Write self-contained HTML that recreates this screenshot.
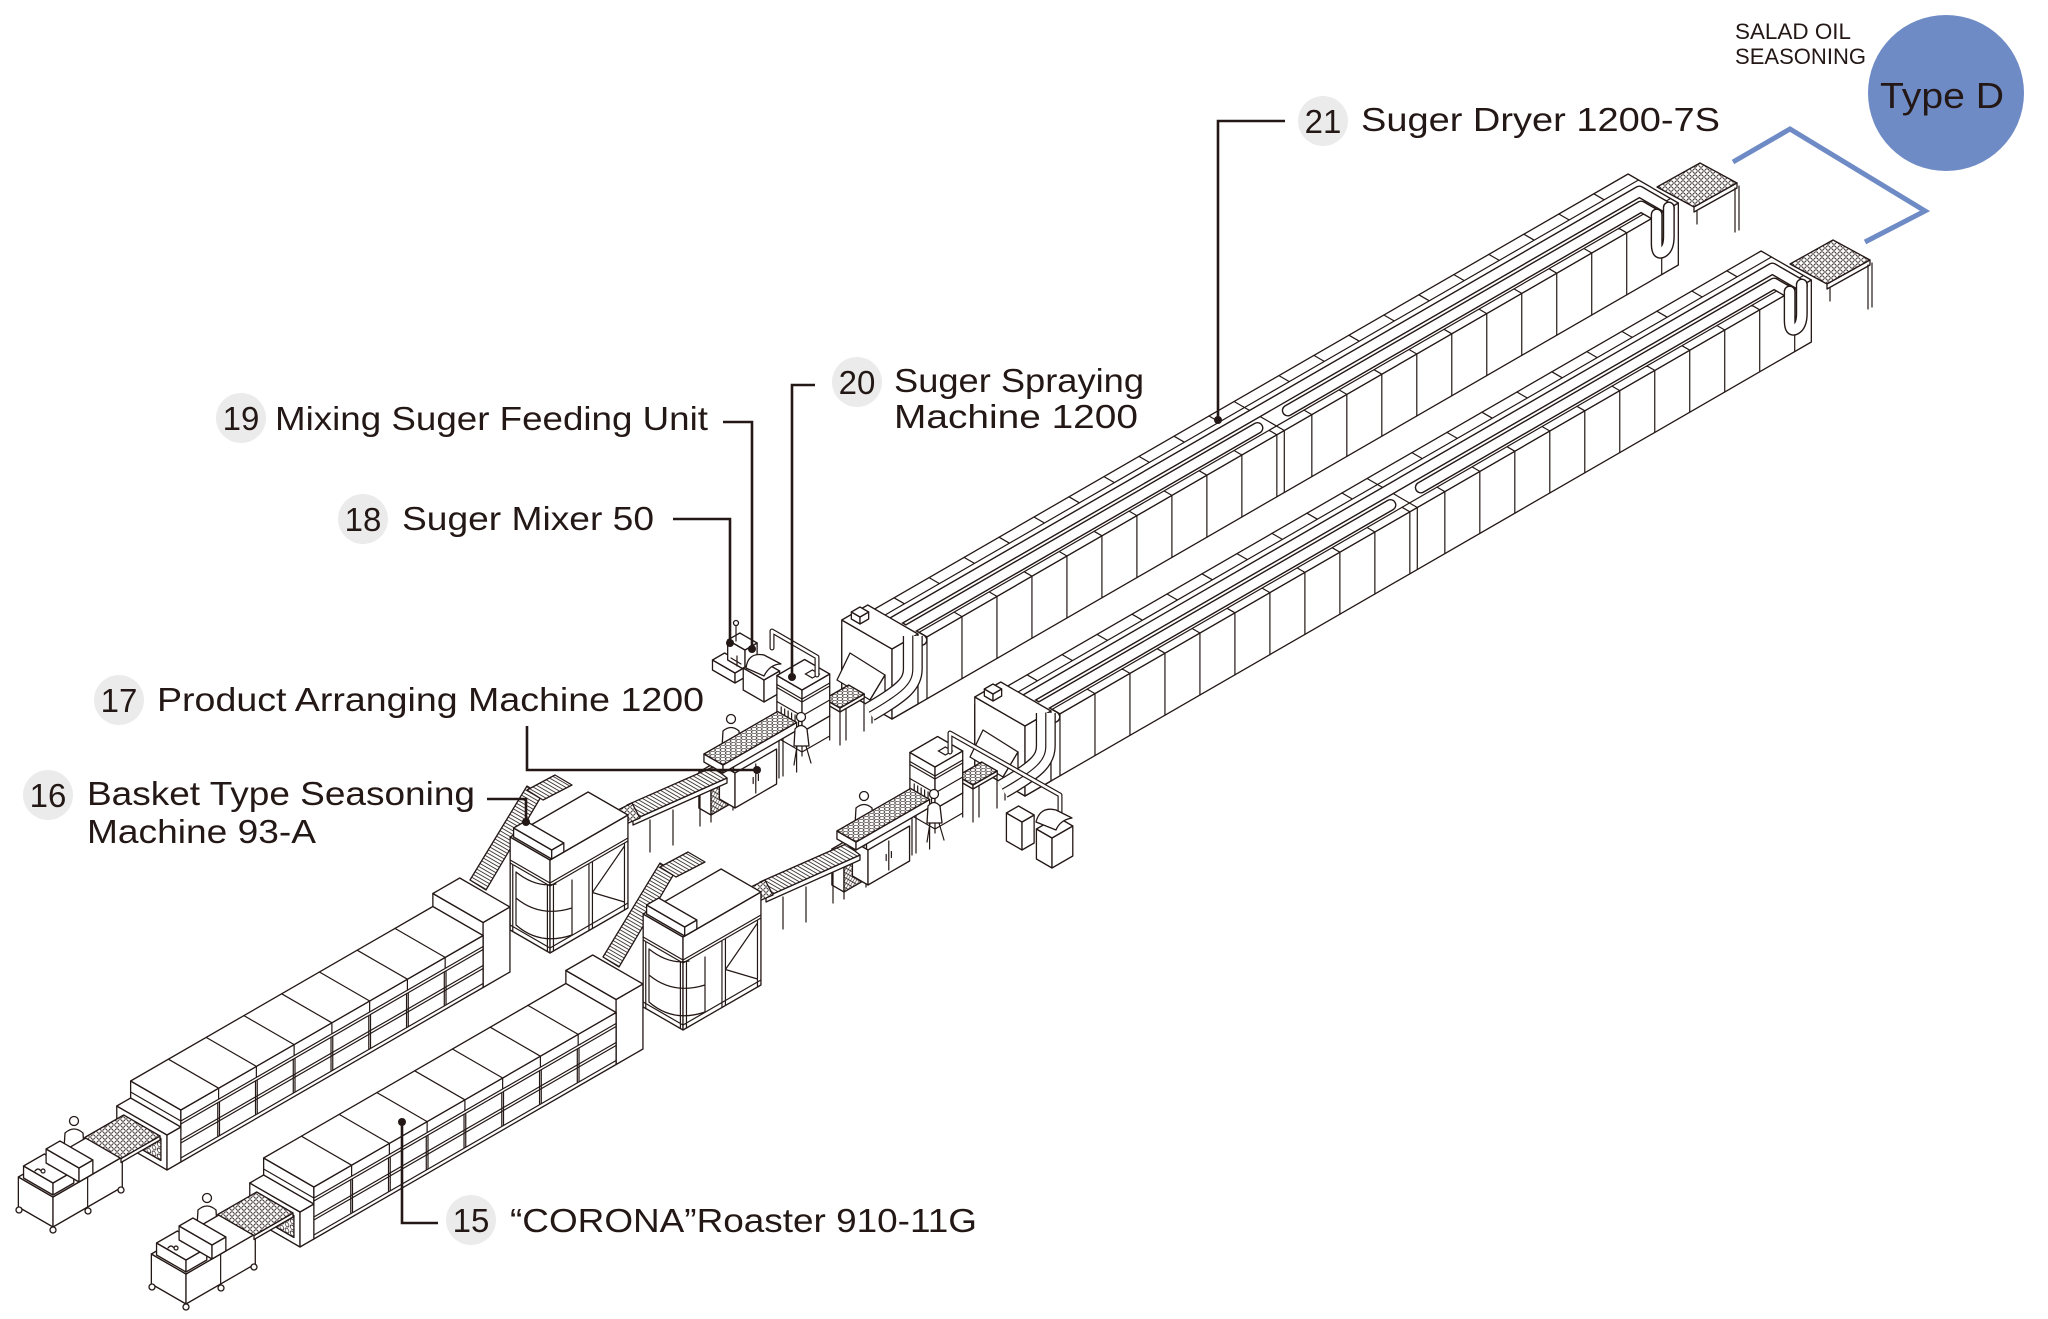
<!DOCTYPE html>
<html><head><meta charset="utf-8"><title>Salad Oil Seasoning Type D</title>
<style>
html,body{margin:0;padding:0;background:#fff;}
svg{display:block;}
.s{fill:#fff;stroke:#231815;stroke-width:1.3;vector-effect:non-scaling-stroke;stroke-linejoin:round}
.n{fill:none;stroke:#231815;stroke-width:1.2;vector-effect:non-scaling-stroke;stroke-linecap:round}
.tk{fill:none;stroke:#231815;stroke-width:12;stroke-linecap:round;stroke-linejoin:round;vector-effect:non-scaling-stroke}
.tw{fill:none;stroke:#fff;stroke-width:9.2;stroke-linecap:round;stroke-linejoin:round;vector-effect:non-scaling-stroke}
.fk{fill:none;stroke:#231815;stroke-width:20;stroke-linecap:butt;stroke-linejoin:round;vector-effect:non-scaling-stroke}
.fw{fill:none;stroke:#fff;stroke-width:17.4;stroke-linecap:butt;stroke-linejoin:round;vector-effect:non-scaling-stroke}
.pk{fill:none;stroke:#231815;stroke-width:5;stroke-linecap:round;stroke-linejoin:round}
.pw{fill:none;stroke:#fff;stroke-width:2.6;stroke-linecap:round;stroke-linejoin:round}
.t{font-family:"Liberation Sans",Arial,sans-serif;fill:#231815}
.ld{fill:none;stroke:#231815;stroke-width:2.6}
.nc{fill:#ebebeb}
</style></head><body>
<svg width="2048" height="1319" viewBox="0 0 2048 1319" xmlns="http://www.w3.org/2000/svg">
<defs>
<pattern id="dots" width="6" height="6" patternUnits="userSpaceOnUse"><rect width="6" height="6" fill="#fff"/><circle cx="3" cy="3" r="2.2" fill="none" stroke="#231815" stroke-width=".8"/></pattern>
<pattern id="hatch" width="3.2" height="10" patternUnits="userSpaceOnUse" patternTransform="rotate(-60)"><rect width="3.2" height="10" fill="#fff"/><path d="M1,0V10" stroke="#231815" stroke-width=".8"/></pattern>
<pattern id="xh" width="5" height="5" patternUnits="userSpaceOnUse"><rect width="5" height="5" fill="#fff"/><path d="M0,0L5,5M5,0L0,5" stroke="#231815" stroke-width=".7"/></pattern>
</defs>
<rect width="2048" height="1319" fill="#fff"/>

<!-- upper mixer (18/19) -->
<g transform="translate(735,683)">
 <rect class="s" width="26" height="10" transform="matrix(-.866,-.5,0,-1,0,0)"/>
 <rect class="s" width="14" height="10" transform="matrix(.866,-.5,0,-1,0,0)"/>
 <rect class="s" width="14" height="26" transform="matrix(.866,-.5,-.866,-.5,0,-10)"/>
</g>
<g transform="translate(745,670)">
 <rect class="s" width="20" height="20" transform="matrix(-.866,-.5,0,-1,0,0)"/>
 <rect class="s" width="14" height="20" transform="matrix(.866,-.5,0,-1,0,0)"/>
 <rect class="s" width="14" height="20" transform="matrix(.866,-.5,-.866,-.5,0,-20)"/>
 <path class="n" d="M-4,-6L-14,-12M-8,-14V-4"/>
</g>
<path class="n" d="M736,641V626"/><circle class="s" cx="736" cy="623" r="2.5"/>
<g transform="translate(764,702)">
 <rect class="s" width="24" height="22" transform="matrix(-.866,-.5,0,-1,0,0)"/>
 <rect class="s" width="18" height="22" transform="matrix(.866,-.5,0,-1,0,0)"/>
 <rect class="s" width="18" height="24" transform="matrix(.866,-.5,-.866,-.5,0,-22)"/>
</g>
<path class="s" d="M746,668Q748,652 764,655L781,664Q770,664 764,676Z"/>

<g id="line">
<!-- ============ DRYER ============ -->
<g transform="translate(892,719)">
 <rect class="s" width="58" height="62" transform="matrix(-.866,-.5,0,-1,0,0)"/>
 <g transform="matrix(.866,-.5,0,-1,0,0)">
  <rect class="s" width="908" height="62"/>
  <path class="n" d="M40.4,0V62M80.8,0V62M121.2,0V62M161.6,0V62M202,0V62M242.4,0V62M282.8,0V62M323.2,0V62M363.6,0V62M404,0V62M444.4,0V62M453,0V62M484.8,0V62M525.2,0V62M565.6,0V62M606,0V62M646.4,0V62M686.8,0V62M727.2,0V62M767.6,0V62M808,0V62M848.4,0V62M888.8,0V62"/>
 </g>
 <g transform="matrix(.866,-.5,-.866,-.5,0,-62)">
  <rect class="s" width="908" height="58"/>
  <path class="n" d="M0,9H908M0,46H908M40.4,0V9M80.8,0V9M121.2,0V9M161.6,0V9M202,0V9M242.4,0V9M282.8,0V9M323.2,0V9M363.6,0V9M404,0V9M444.4,0V9M484.8,0V9M525.2,0V9M565.6,0V9M606,0V9M646.4,0V9M686.8,0V9M727.2,0V9M767.6,0V9M808,0V9M848.4,0V9M888.8,0V9M453,0V58M20,46V58M60.4,46V58M100.8,46V58M141.2,46V58M181.6,46V58M222,46V58M262.4,46V58M302.8,46V58M343.2,46V58M383.6,46V58M424,46V58M504.8,46V58M545.2,46V58M585.6,46V58M626,46V58M666.4,46V58M706.8,46V58M747.2,46V58M787.6,46V58M828,46V58M868.4,46V58"/>
  <path class="tk" d="M34,0V34H897V0M34,18H440M475,18H883V0"/>
  <path class="tw" d="M34,0V34H897V0M34,18H440M475,18H883V0"/>
 </g>
 <g transform="matrix(.866,-.5,0,-1,0,0)">
  <path class="tk" d="M897,63V34Q897,22 890,22Q883,22 883,34V63"/>
  <path class="tw" d="M897,63V34Q897,22 890,22Q883,22 883,34V63"/>
 </g>
 <!-- entry housing -->
 <rect class="s" width="58" height="70" transform="matrix(-.866,-.5,0,-1,0,0)"/>
 <rect class="s" width="30" height="70" transform="matrix(.866,-.5,0,-1,0,0)"/>
 <rect class="s" width="30" height="58" transform="matrix(.866,-.5,-.866,-.5,0,-70)"/>
 <g transform="translate(-32,-95)">
  <rect class="s" width="10" height="7" transform="matrix(-.866,-.5,0,-1,0,0)"/>
  <rect class="s" width="10" height="7" transform="matrix(.866,-.5,0,-1,0,0)"/>
  <rect class="s" width="10" height="10" transform="matrix(.866,-.5,-.866,-.5,0,-7)"/>
 </g>
 <!-- chute -->
 <polygon class="s" points="-42,-66 -55,-39 -22,-19 -7,-44"/>
 <polygon class="s" points="-22,-19 -7,-44 -7,-22 -20,-7"/>
 <path class="n" d="M-20,-7V4M-8,-22V-12"/>
 <!-- fat duct -->
 <g transform="matrix(.866,-.5,0,-1,0,0)">
  <path class="fk" d="M24,71V38C24,24 14,20 -26,20"/>
  <path class="fw" d="M24,71V38C24,24 14,20 -26,20"/>
  <path class="n" d="M24,71V38C24,24 14,20 -26,20"/>
 </g>
</g>
<!-- dryer exit mesh -->
<polygon class="s" style="fill:url(#dots)" points="1657,187 1700,163 1737,183 1694,207"/>
<polygon class="s" points="1694,207 1737,183 1737,188 1694,212"/>
<path class="n" d="M1735,188V232M1739,186V230M1697,211V224"/>

<!-- dryer entry conveyor -->
<path class="n" d="M840,712V745M864,698V731M846,708V740"/>
<g transform="translate(840,712)">
 <rect class="s" width="18" height="4" transform="matrix(-.866,-.5,0,-1,0,0)"/>
 <rect class="s" width="28" height="4" transform="matrix(.866,-.5,0,-1,0,0)"/>
 <rect class="s" style="fill:url(#dots)" width="28" height="18" transform="matrix(.866,-.5,-.866,-.5,0,-4)"/>
</g>

<!-- ============ SPRAY MACHINE ============ -->
<g transform="translate(802,732)">
 <path class="n" d="M0,0V24M27.7,-16V8M-25.1,-14.5V9.5M0,20L27.7,4M0,20L-25.1,5.5"/>
 <g transform="matrix(-.866,-.5,0,-1,0,0)">
  <rect class="s" width="29" height="42"/>
  <path class="n" d="M0,16H29M0,30H29M0,33H29M4,2V13M8,2V13M12,2V13M16,2V13M20,2V13M24,2V13"/>
 </g>
 <g transform="matrix(.866,-.5,0,-1,0,0)">
  <rect class="s" width="32" height="42"/>
  <path class="n" d="M0,16H32M0,30H32M0,33H32"/>
 </g>
 <g transform="matrix(.866,-.5,-.866,-.5,0,-42)">
  <rect class="s" width="32" height="29"/>
  <rect class="n" x="18" y="6" width="8" height="8"/>
 </g>
</g>

<!-- ============ ARRANGING TABLE ============ -->
<circle class="s" cx="731" cy="719" r="4.5"/>
<path class="s" d="M722,748L723,731Q731,724 739,731L740,748Z"/>
<g transform="translate(711,815)">
 <rect class="s" width="14" height="36" transform="matrix(-.866,-.5,0,-1,0,0)"/>
 <rect class="s" style="fill:url(#xh)" width="26" height="36" transform="matrix(.866,-.5,0,-1,0,0)"/>
 <rect class="s" width="26" height="14" transform="matrix(.866,-.5,-.866,-.5,0,-36)"/>
</g>
<path class="n" d="M711,815V822M733,803V810"/>
<g transform="translate(735,808)">
 <rect class="s" width="18" height="35" transform="matrix(-.866,-.5,0,-1,0,0)"/>
 <g transform="matrix(.866,-.5,0,-1,0,0)">
  <rect class="s" width="48" height="35"/>
  <path class="n" d="M24,3V32M21,14V20M27,14V20"/>
 </g>
</g>
<path class="n" d="M796.6,730.5V772M779,740V778M783,738V776"/>
<g transform="translate(723,773)">
 <rect class="s" width="22" height="8" transform="matrix(-.866,-.5,0,-1,0,0)"/>
 <rect class="s" width="85" height="8" transform="matrix(.866,-.5,0,-1,0,0)"/>
 <rect class="s" style="fill:url(#dots)" width="85" height="22" transform="matrix(.866,-.5,-.866,-.5,0,-8)"/>
</g>
<circle class="s" cx="801" cy="717" r="4.5"/>
<path class="s" d="M794,746L795,729Q801,722 807,729L809,746Z"/>
<path class="n" d="M797,746L794,765M806,746L811,763"/>

<!-- conveyor seasoning -> table -->
<path class="n" d="M673,810V845M650,820V852M700,792V826"/>
<polygon class="s" points="633,820 727,778 727,783 633,825"/>
<polygon class="s" style="fill:url(#hatch)" points="627,805 713,767 727,778 633,820"/>
<polygon class="s" style="fill:url(#dots)" points="618,810 632,803 640,818 626,824"/>

<!-- ============ ROASTER ============ -->
<g transform="translate(167,1170)">
 <g transform="translate(316.1,-182.5)">
  <rect class="s" width="58" height="65" transform="matrix(-.866,-.5,0,-1,0,0)"/>
  <rect class="s" width="31" height="65" transform="matrix(.866,-.5,0,-1,0,0)"/>
  <rect class="s" width="31" height="58" transform="matrix(.866,-.5,-.866,-.5,0,-65)"/>
 </g>
 <g transform="translate(13.86,-8)">
  <g transform="matrix(-.866,-.5,0,-1,0,0)">
   <rect class="s" width="58" height="52"/>
   <path class="n" d="M0,41H58"/>
  </g>
  <g transform="matrix(.866,-.5,0,-1,0,0)">
   <rect class="s" width="349" height="52"/>
   <path class="n" d="M0,41H349M0,38H349M0,22H349M0,19H349M0,4H349M42.6,4V38M44.6,4V38M86.2,4V38M88.2,4V38M129.8,4V38M131.8,4V38M173.4,4V38M175.4,4V38M217,4V38M219,4V38M260.6,4V38M262.6,4V38M304.2,4V38M306.2,4V38M43.6,41V52M87.2,41V52M130.8,41V52M174.4,41V52M218,41V52M261.6,41V52M305.2,41V52"/>
  </g>
  <g transform="matrix(.866,-.5,-.866,-.5,0,-52)">
   <rect class="s" width="349" height="58"/>
   <path class="n" d="M43.6,0V58M87.2,0V58M130.8,0V58M174.4,0V58M218,0V58M261.6,0V58M305.2,0V58"/>
  </g>
 </g>
 <g transform="matrix(-.866,-.5,0,-1,0,0)">
  <rect class="s" width="58" height="35"/>
  <rect class="s" style="fill:url(#dots)" x="7" y="6" width="44" height="22"/>
 </g>
 <rect class="s" width="16" height="35" transform="matrix(.866,-.5,0,-1,0,0)"/>
 <rect class="s" width="16" height="58" transform="matrix(.866,-.5,-.866,-.5,0,-35)"/>
</g>

<!-- inclined conveyor roaster -> seasoning -->
<polygon class="s" style="fill:url(#hatch)" points="470,880 527,786 542,795 486,890"/>
<polygon class="s" style="fill:url(#hatch)" points="527,790 555,775 572,785 543,800"/>

<!-- ============ SEASONING MACHINE ============ -->
<g transform="translate(550,953)">
 <rect class="s" width="46" height="93" transform="matrix(-.866,-.5,0,-1,0,0)"/>
 <rect class="s" width="90" height="93" transform="matrix(.866,-.5,0,-1,0,0)"/>
 <rect class="s" width="90" height="46" transform="matrix(.866,-.5,-.866,-.5,0,-93)"/>
</g>
<path class="n" d="M516,872V925Q540,946 572,935M516,898Q540,918 572,908M516,872Q536,888 556,884M572,880V935"/>
<g transform="translate(550,953)">
 <g transform="matrix(-.866,-.5,0,-1,0,0)"><path class="n" d="M0,67H46M0,70H46M3,0V67M43,0V67M0,5H46"/></g>
 <g transform="matrix(.866,-.5,0,-1,0,0)"><path class="n" d="M0,67H90M0,70H90M4,0V67M45,0V67M49,0V67M86,0V67M0,5H90M49,36L86,64M49,36L86,8"/></g>
 <g transform="translate(1.7,-94)">
  <rect class="s" width="44" height="9" transform="matrix(-.866,-.5,0,-1,0,0)"/>
  <rect class="s" width="14" height="9" transform="matrix(.866,-.5,0,-1,0,0)"/>
  <rect class="s" width="14" height="44" transform="matrix(.866,-.5,-.866,-.5,0,-9)"/>
 </g>
</g>

<!-- ============ FEEDER ============ -->
<circle class="s" cx="74" cy="1121" r="4.5"/>
<path class="s" d="M64,1149L65,1133Q74,1125 83,1133L84,1149Z"/>
<g transform="translate(53,1227)">
 <rect class="s" width="40" height="30" transform="matrix(-.866,-.5,0,-1,0,0)"/>
 <g transform="matrix(.866,-.5,0,-1,0,0)"><rect class="s" width="80" height="30"/><path class="n" d="M40,0V30"/></g>
 <rect class="s" width="80" height="40" transform="matrix(.866,-.5,-.866,-.5,0,-30)"/>
</g>
<circle class="s" cx="53" cy="1230" r="3"/><circle class="s" cx="19" cy="1210" r="3"/><circle class="s" cx="121" cy="1190" r="3"/><circle class="s" cx="88" cy="1211" r="3"/>
<polygon class="s" points="121,1158.5 160,1136 160,1140 121,1162.5"/>
<polygon class="s" style="fill:url(#dots)" points="121,1158.5 160,1136 123.7,1115 84.7,1137.5"/>
<g transform="translate(53,1195)">
 <rect class="s" width="34" height="12" transform="matrix(-.866,-.5,0,-1,0,0)"/>
 <rect class="s" width="24" height="12" transform="matrix(.866,-.5,0,-1,0,0)"/>
 <rect class="s" width="24" height="34" transform="matrix(.866,-.5,-.866,-.5,0,-12)"/>
 <path class="n" d="M-18,-24q3,-4 6,0M-10,-26a2,2 0 1,0 0.1,0M-4,-30q3,-4 6,0"/>
</g>
<g transform="translate(79,1182)">
 <rect class="s" width="38" height="14" transform="matrix(-.866,-.5,0,-1,0,0)"/>
 <rect class="s" width="16" height="14" transform="matrix(.866,-.5,0,-1,0,0)"/>
 <rect class="s" width="16" height="38" transform="matrix(.866,-.5,-.866,-.5,0,-14)"/>
</g>
</g>

<!-- lower line (copy) -->
<use href="#line" transform="translate(133,77)"/>

<!-- spray pipes -->
<path class="pk" d="M817,675V657L772,631V648"/><path class="pw" d="M817,675V657L772,631V648"/>
<path class="pk" d="M950,752V733L1060,795V812"/><path class="pw" d="M950,752V733L1060,795V812"/>

<!-- lower mixer -->
<g transform="translate(1022,850)">
 <rect class="s" width="18" height="28" transform="matrix(-.866,-.5,0,-1,0,0)"/>
 <rect class="s" width="14" height="28" transform="matrix(.866,-.5,0,-1,0,0)"/>
 <rect class="s" width="14" height="18" transform="matrix(.866,-.5,-.866,-.5,0,-28)"/>
</g>
<g transform="translate(1052,868)">
 <rect class="s" width="18" height="30" transform="matrix(-.866,-.5,0,-1,0,0)"/>
 <rect class="s" width="24" height="30" transform="matrix(.866,-.5,0,-1,0,0)"/>
 <rect class="s" width="24" height="18" transform="matrix(.866,-.5,-.866,-.5,0,-30)"/>
</g>
<path class="s" d="M1036,822Q1040,806 1056,810L1072,818Q1060,820 1056,830Z"/>

<!-- ============ LABELS ============ -->
<path class="ld" d="M1285,121H1218V420"/><circle cx="1218" cy="420" r="4" fill="#231815"/>
<circle class="nc" cx="1323" cy="121" r="25"/>
<text class="t" x="1323" y="133" font-size="33" text-anchor="middle">21</text>
<text class="t" x="1361" y="131" font-size="33" textLength="359" lengthAdjust="spacingAndGlyphs">Suger Dryer 1200-7S</text>

<path class="ld" d="M815,385H792V677"/><circle cx="792" cy="677" r="4" fill="#231815"/>
<circle class="nc" cx="857" cy="382" r="25"/>
<text class="t" x="857" y="394" font-size="33" text-anchor="middle">20</text>
<text class="t" x="894" y="392" font-size="33" textLength="250" lengthAdjust="spacingAndGlyphs">Suger Spraying</text>
<text class="t" x="894" y="428" font-size="33" textLength="244" lengthAdjust="spacingAndGlyphs">Machine 1200</text>

<path class="ld" d="M723,422H752V649"/><circle cx="752" cy="649" r="4" fill="#231815"/>
<circle class="nc" cx="241" cy="418" r="25"/>
<text class="t" x="241" y="430" font-size="33" text-anchor="middle">19</text>
<text class="t" x="275" y="430" font-size="33" textLength="433" lengthAdjust="spacingAndGlyphs">Mixing Suger Feeding Unit</text>

<path class="ld" d="M673,519H730V643"/><circle cx="730" cy="643" r="4" fill="#231815"/>
<circle class="nc" cx="363" cy="519" r="25"/>
<text class="t" x="363" y="531" font-size="33" text-anchor="middle">18</text>
<text class="t" x="402" y="530" font-size="33" textLength="252" lengthAdjust="spacingAndGlyphs">Suger Mixer 50</text>

<path class="ld" d="M527,726V770H757"/><circle cx="757" cy="770" r="4" fill="#231815"/>
<circle class="nc" cx="119" cy="700" r="25"/>
<text class="t" x="119" y="712" font-size="33" text-anchor="middle">17</text>
<text class="t" x="157" y="711" font-size="33" textLength="547" lengthAdjust="spacingAndGlyphs">Product Arranging Machine 1200</text>

<path class="ld" d="M487,799H526V822"/><circle cx="526" cy="822" r="4" fill="#231815"/>
<circle class="nc" cx="48" cy="795" r="25"/>
<text class="t" x="48" y="807" font-size="33" text-anchor="middle">16</text>
<text class="t" x="87" y="805" font-size="33" textLength="388" lengthAdjust="spacingAndGlyphs">Basket Type Seasoning</text>
<text class="t" x="87" y="843" font-size="33" textLength="229" lengthAdjust="spacingAndGlyphs">Machine 93-A</text>

<path class="ld" d="M438,1223H402V1122"/><circle cx="402" cy="1122" r="4" fill="#231815"/>
<circle class="nc" cx="471" cy="1220" r="25"/>
<text class="t" x="471" y="1232" font-size="33" text-anchor="middle">15</text>
<text class="t" x="510" y="1232" font-size="33" textLength="467" lengthAdjust="spacingAndGlyphs">“CORONA”Roaster 910-11G</text>

<!-- Type D -->
<polyline points="1733,162 1790,129 1925,211 1865,242" fill="none" stroke="#6f8bc6" stroke-width="5"/>
<circle cx="1946" cy="93" r="78" fill="#6f8bc6"/>
<text class="t" x="1880" y="108" font-size="36" textLength="124" lengthAdjust="spacingAndGlyphs">Type D</text>
<text class="t" x="1735" y="39" font-size="22" textLength="116" lengthAdjust="spacingAndGlyphs">SALAD OIL</text>
<text class="t" x="1735" y="64" font-size="22" textLength="131" lengthAdjust="spacingAndGlyphs">SEASONING</text>
</svg>
</body></html>
